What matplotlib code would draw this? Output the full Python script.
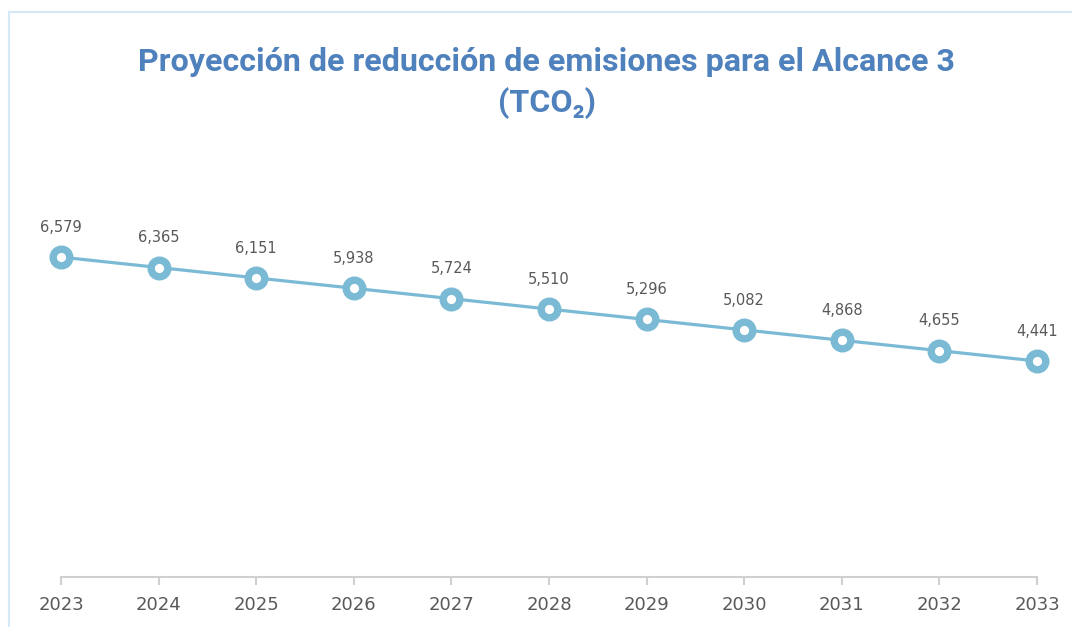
import matplotlib
matplotlib.use('Agg')
import matplotlib.pyplot as plt
from matplotlib.patches import Rectangle

# data
years = [2023, 2024, 2025, 2026, 2027, 2028, 2029, 2030, 2031, 2032, 2033]
emissions = [6579, 6365, 6151, 5938, 5724, 5510, 5296, 5082, 4868, 4655, 4441]
title_lines = ['Proyección de reducción de emisiones para el Alcance 3', '(TCO₂)']

line_color = '#7BBAD5'
text_color = '#595959'
title_color = '#4F81BD'

fig = plt.figure(figsize=(10.72, 6.27), dpi=100)
fig.patch.set_facecolor('white')

# light blue chart-area frame
fig.patches.append(Rectangle((9 / 1072, -0.1), 1.2, (627 - 12) / 627 + 0.1,
                             transform=fig.transFigure, fill=False,
                             edgecolor='#D5E8F5', linewidth=1.6))

ax = fig.add_axes([61 / 1072, 50 / 627, 976 / 1072, 389 / 627])
ax.plot(years, emissions, color=line_color, linewidth=2.3, marker='o',
        markersize=12, markerfacecolor='white', markeredgecolor=line_color,
        markeredgewidth=5.3, zorder=3, clip_on=False)

for x, y in zip(years, emissions):
    ax.annotate(f'{y:,}', (x, y), xytext=(0, 16), textcoords='offset points',
                ha='center', va='bottom', fontsize=10.5, color=text_color,
                family='DejaVu Sans')

ax.set_xlim(2023, 2033)
ax.set_ylim(0, 8000)
ax.set_yticks([])
ax.set_xticks(years)
ax.set_xticklabels([str(y) for y in years], fontsize=13, color=text_color)
ax.tick_params(axis='x', length=6, width=1.5, color='#D0D0D0', pad=8)
for side in ['top', 'right', 'left']:
    ax.spines[side].set_visible(False)
ax.spines['bottom'].set_color('#D0D0D0')
ax.spines['bottom'].set_linewidth(1.5)
ax.set_facecolor('none')

fig.text(547 / 1072, 1 - 62 / 627, title_lines[0], ha='center', va='center',
         fontsize=23.2, fontweight='bold', color=title_color, family='Roboto')
fig.text(547 / 1072, 1 - 103 / 627, title_lines[1], ha='center', va='center',
         fontsize=23.2, fontweight='bold', color=title_color, family='Roboto')

fig.savefig('out.png', dpi=100)
